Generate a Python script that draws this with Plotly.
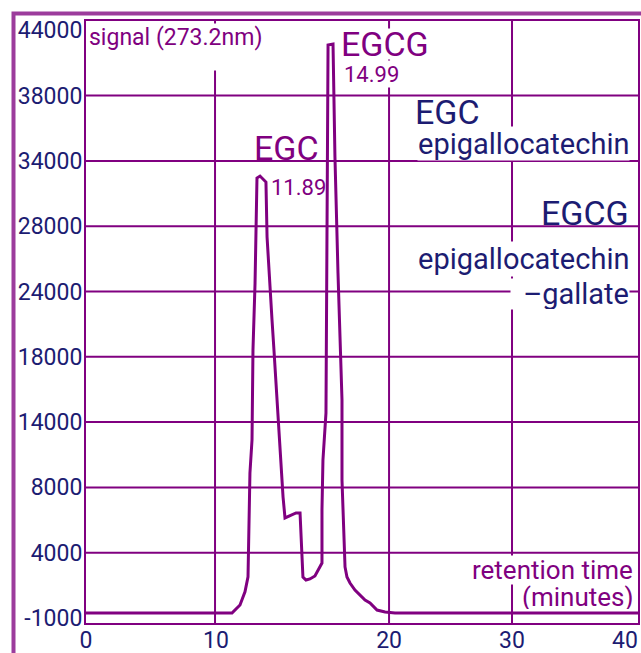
import plotly.graph_objects as go

# ---- data ----
time_min = [0, 10.58, 11.16, 11.52, 11.74, 11.88, 12.03, 12.10, 12.25, 12.39, 12.61, 13.04,
            13.12, 13.26, 13.48, 13.62, 13.84, 14.06, 14.20, 14.28, 14.42, 14.57, 14.78,
            15.22, 15.51, 15.65, 15.72, 15.94, 16.23, 16.59, 16.81, 17.10, 17.10, 17.17,
            17.39, 17.54, 17.54, 17.90, 18.04, 18.26, 18.41, 18.55, 18.55, 18.77, 18.91,
            19.13, 19.49, 19.86, 20.22, 20.58, 21.09, 21.67, 22.39, 40]
signal = [-620, -620, 0, 1000, 2150, 10100, 12630, 19520, 24650, 32690, 32840, 32380,
          28170, 25260, 21820, 19520, 15690, 12630, 10330, 8260, 6660, 6730, 6890,
          7040, 7040, 3980, 2140, 1910, 1990, 2220, 2680, 3210, 7270, 11100,
          14700, 38660, 42870, 42950, 34300, 25420, 19520, 15690, 9570, 2910, 2140,
          1680, 1140, 760, 380, 150, -390, -540, -620, -620]

y_tick_vals = [-1000, 4000, 9000, 14000, 19000, 24000, 29000, 34000, 39000, 44000]
y_tick_text = ["-1000", "4000", "8000", "14000", "18000", "24000", "28000", "34000", "38000", "44000"]
x_grid_vals = [9.35, 21.96, 30.87]
x_tick_vals = [0, 9.42, 21.96, 30.87, 39.06]
x_tick_text = ["0", "10", "20", "30", "40"]

peak_labels = [("EGC", "11.89"), ("EGCG", "14.99")]

PURPLE = "#800080"
NAVY = "#1c1c72"
FRAME = "#9c3c9c"
FONT = "Roboto"

W, H = 641, 653
ML, MR, MT, MB = 86, 3, 21, 30
PW, PH = W - ML - MR, H - MT - MB


def px(x):
    return (x - ML) / PW


def py(y):
    return (H - MB - y) / PH


fig = go.Figure()
fig.add_trace(go.Scatter(x=time_min, y=signal, mode="lines",
                         line=dict(color=PURPLE, width=3), hoverinfo="skip"))

shapes = []
for v in y_tick_vals[1:-1]:
    shapes.append(dict(type="line", xref="paper", yref="y", x0=0, x1=1, y0=v, y1=v,
                       line=dict(color=PURPLE, width=2), layer="below"))
for v in x_grid_vals:
    shapes.append(dict(type="line", xref="x", yref="paper", x0=v, x1=v, y0=0, y1=1,
                       line=dict(color=PURPLE, width=2), layer="below"))
# outer frame
shapes.append(dict(type="path", xref="paper", yref="paper",
                   path=f"M {px(13.5)} {py(700)} L {px(13.5)} {py(13.5)} L {px(700)} {py(13.5)}",
                   line=dict(color=FRAME, width=4)))

ann = []


def A(text, x, y, xa, ya, size, color, bg=None, **kw):
    d = dict(text=text, xref="paper", yref="paper", x=px(x), y=py(y), xanchor=xa, yanchor=ya,
             showarrow=False, font=dict(family=FONT, size=size, color=color), borderpad=0)
    if bg:
        d["bgcolor"] = bg
    d.update(kw)
    ann.append(d)


A("signal (273.2nm)", 88, 23, "left", "top", 23, PURPLE, "white", height=46, valign="top",
  align="left")
A(peak_labels[1][0], 340, 44, "left", "middle", 34, PURPLE, "white", height=30)
A(peak_labels[1][1], 343, 74, "left", "middle", 22, PURPLE, "white", height=26)
A(peak_labels[0][0], 253, 148, "left", "middle", 34, PURPLE, height=30)
A(peak_labels[0][1], 270, 187, "left", "middle", 22, PURPLE, height=24)

A("EGC", 414, 112, "left", "middle", 34, NAVY, height=26)
A("epigallocatechin", 630, 144, "right", "middle", 29, NAVY, "white", height=33)
A("EGCG", 630, 213, "right", "middle", 34, NAVY, height=28)
A("epigallocatechin", 630, 259, "right", "middle", 29, NAVY, "white", height=34)
A("–gallate", 630, 294, "right", "middle", 29, NAVY, "white", width=118, align="right",
  height=30)
A("retention time", 634, 570, "right", "middle", 26, PURPLE, "white", height=28)
A("(minutes)", 634, 597, "right", "middle", 26, PURPLE, "white", height=24)

fig.update_layout(
    width=W, height=H, margin=dict(l=ML, r=MR, t=MT, b=MB),
    paper_bgcolor="white", plot_bgcolor="white", showlegend=False,
    shapes=shapes, annotations=ann,
    xaxis=dict(range=[0, 40], tickvals=x_tick_vals, ticktext=x_tick_text,
               showgrid=False, zeroline=False,
               showline=True, mirror=True, linecolor=PURPLE, linewidth=2, ticks="",
               automargin=False, ticklabelstandoff=-5,
               tickfont=dict(family=FONT, size=23, color=NAVY)),
    yaxis=dict(range=[-1383, 44712], tickvals=y_tick_vals, ticktext=y_tick_text,
               showgrid=False, zeroline=False, automargin=False, ticklabelstandoff=-3,
               showline=True, mirror=True, linecolor=PURPLE, linewidth=2, ticks="",
               tickfont=dict(family=FONT, size=23, color=NAVY)),
)

fig.write_html("out.html", config={"displayModeBar": False},
               post_script="document.body.style.margin='0';document.body.style.overflow='hidden';")
